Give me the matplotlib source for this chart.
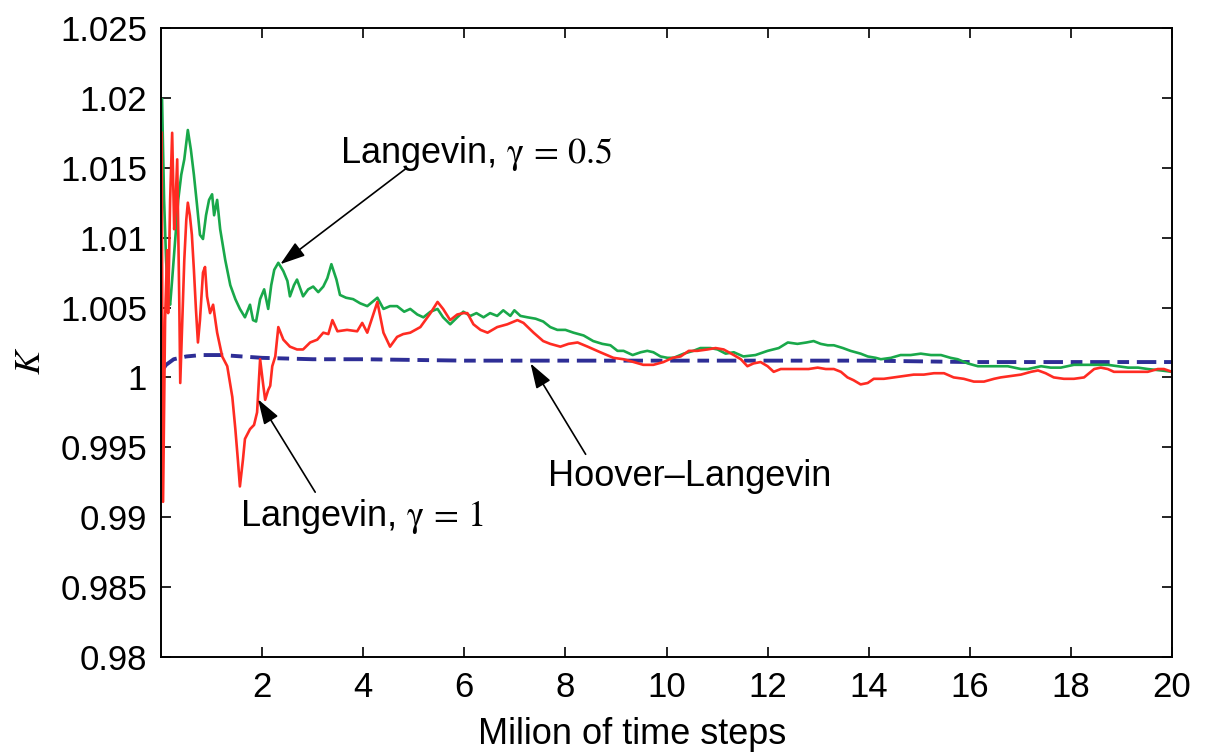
import numpy as np
import matplotlib.pyplot as plt

plt.rcParams['font.family'] = ['Liberation Sans', 'DejaVu Sans']
plt.rcParams['mathtext.fontset'] = 'stix'

# Langevin, gamma = 0.5 (green)
x_green = [0.02, 0.06, 0.10, 0.14, 0.18, 0.22, 0.28, 0.34, 0.40, 0.46, 0.53, 0.59, 0.65, 0.71,
           0.77, 0.83, 0.89, 0.95, 1.01, 1.05, 1.11, 1.17, 1.27, 1.37, 1.47, 1.56, 1.66, 1.76,
           1.82, 1.88, 1.96, 2.04, 2.12, 2.18, 2.24, 2.32, 2.42, 2.50, 2.55, 2.63, 2.69, 2.81,
           2.91, 3.01, 3.11, 3.21, 3.29, 3.37, 3.47, 3.54, 3.66, 3.80, 3.94, 4.08, 4.18, 4.28,
           4.40, 4.53, 4.67, 4.81, 4.93, 5.07, 5.19, 5.33, 5.47, 5.58, 5.72, 5.86, 5.98, 6.12,
           6.24, 6.38, 6.51, 6.65, 6.77, 6.91, 6.99, 7.11, 7.25, 7.41, 7.56, 7.70, 7.84, 8.00,
           8.16, 8.36, 8.55, 8.73, 8.89, 9.03, 9.15, 9.33, 9.49, 9.62, 9.74, 9.88, 10.02, 10.14,
           10.34, 10.53, 10.67, 10.87, 11.01, 11.17, 11.33, 11.52, 11.76, 12.00, 12.22, 12.40,
           12.59, 12.77, 12.91, 13.05, 13.19, 13.31, 13.49, 13.64, 13.84, 13.98, 14.14, 14.24,
           14.44, 14.63, 14.83, 15.03, 15.23, 15.43, 15.62, 15.76, 15.96, 16.16, 16.42, 16.75,
           17.01, 17.15, 17.41, 17.60, 17.80, 18.06, 18.34, 18.59, 18.73, 18.93, 19.13, 19.33,
           19.52, 19.78, 20.00]
k_green = [1.0199, 1.0127, 1.0084, 1.0056, 1.0052, 1.0070, 1.0099, 1.0127, 1.0145, 1.0156,
           1.0177, 1.0163, 1.0145, 1.0124, 1.0102, 1.0099, 1.0116, 1.0127, 1.0131, 1.0116,
           1.0127, 1.0106, 1.0084, 1.0066, 1.0056, 1.0049, 1.0043, 1.0052, 1.0041, 1.0040,
           1.0056, 1.0063, 1.0049, 1.0066, 1.0077, 1.0082, 1.0076, 1.0069, 1.0058, 1.0066,
           1.0070, 1.0058, 1.0063, 1.0065, 1.0061, 1.0065, 1.0071, 1.0081, 1.0070, 1.0059,
           1.0057, 1.0056, 1.0053, 1.0051, 1.0054, 1.0057, 1.0049, 1.0051, 1.0051, 1.0047,
           1.0049, 1.0045, 1.0043, 1.0047, 1.0049, 1.0043, 1.0038, 1.0043, 1.0047, 1.0044,
           1.0046, 1.0043, 1.0046, 1.0044, 1.0048, 1.0044, 1.0048, 1.0044, 1.0043, 1.0042,
           1.0040, 1.0036, 1.0034, 1.0034, 1.0032, 1.0030, 1.0026, 1.0024, 1.0023, 1.0019,
           1.0019, 1.0016, 1.0018, 1.0019, 1.0018, 1.0015, 1.0014, 1.0014, 1.0017, 1.0019,
           1.0021, 1.0021, 1.0020, 1.0017, 1.0018, 1.0015, 1.0016, 1.0019, 1.0021, 1.0025,
           1.0024, 1.0025, 1.0026, 1.0024, 1.0023, 1.0023, 1.0021, 1.0019, 1.0017, 1.0015,
           1.0014, 1.0013, 1.0014, 1.0016, 1.0016, 1.0017, 1.0016, 1.0016, 1.0014, 1.0013,
           1.0010, 1.0008, 1.0008, 1.0008, 1.0006, 1.0006, 1.0008, 1.0007, 1.0007, 1.0009,
           1.0009, 1.0009, 1.0009, 1.0008, 1.0007, 1.0007, 1.0006, 1.0005, 1.0004]

# Langevin, gamma = 1 (red)
x_red = [0.01, 0.04, 0.08, 0.12, 0.14, 0.18, 0.22, 0.26, 0.28, 0.32, 0.36, 0.38, 0.42, 0.46,
         0.50, 0.53, 0.57, 0.61, 0.65, 0.69, 0.73, 0.77, 0.83, 0.87, 0.91, 0.97, 1.03, 1.11,
         1.21, 1.31, 1.37, 1.41, 1.47, 1.52, 1.56, 1.62, 1.66, 1.76, 1.84, 1.90, 1.96, 2.02,
         2.06, 2.12, 2.16, 2.20, 2.26, 2.32, 2.42, 2.55, 2.69, 2.81, 2.95, 3.09, 3.21, 3.31,
         3.39, 3.49, 3.68, 3.88, 3.98, 4.08, 4.18, 4.28, 4.40, 4.53, 4.67, 4.79, 4.93, 5.13,
         5.33, 5.47, 5.58, 5.72, 5.86, 5.98, 6.06, 6.18, 6.32, 6.46, 6.65, 6.85, 7.05, 7.17,
         7.37, 7.56, 7.70, 7.90, 8.06, 8.24, 8.44, 8.69, 8.95, 9.15, 9.35, 9.54, 9.74, 9.94,
         10.12, 10.28, 10.44, 10.61, 10.81, 10.97, 11.13, 11.33, 11.47, 11.60, 11.72, 11.86,
         12.00, 12.12, 12.26, 12.40, 12.65, 12.81, 12.99, 13.15, 13.31, 13.45, 13.58, 13.70,
         13.84, 13.98, 14.10, 14.30, 14.50, 14.69, 14.89, 15.09, 15.29, 15.49, 15.68, 15.88,
         16.08, 16.28, 16.48, 16.61, 16.81, 17.01, 17.21, 17.35, 17.50, 17.66, 17.86, 18.06,
         18.26, 18.46, 18.59, 18.73, 18.85, 18.99, 19.13, 19.33, 19.52, 19.72, 19.84, 20.00]
k_red = [1.0175, 0.9911, 1.0041, 1.0091, 1.0046, 1.0127, 1.0175, 1.0106, 1.0118, 1.0156,
         1.0056, 0.9996, 1.0041, 1.0084, 1.0113, 1.0125, 1.0116, 1.0102, 1.0077, 1.0049,
         1.0025, 1.0041, 1.0075, 1.0079, 1.0058, 1.0046, 1.0052, 1.0032, 1.0015, 1.0008,
         0.9995, 0.9986, 0.9963, 0.9941, 0.9922, 0.9941, 0.9956, 0.9963, 0.9966, 0.9975,
         1.0013, 0.9995, 0.9984, 0.9991, 0.9994, 1.0008, 1.0015, 1.0036, 1.0027, 1.0022,
         1.0020, 1.0020, 1.0025, 1.0027, 1.0032, 1.0031, 1.0041, 1.0033, 1.0034, 1.0033,
         1.0039, 1.0032, 1.0043, 1.0054, 1.0032, 1.0022, 1.0029, 1.0031, 1.0032, 1.0036,
         1.0046, 1.0054, 1.0049, 1.0041, 1.0045, 1.0046, 1.0046, 1.0038, 1.0034, 1.0032,
         1.0036, 1.0038, 1.0041, 1.0039, 1.0032, 1.0026, 1.0024, 1.0022, 1.0024, 1.0025,
         1.0022, 1.0018, 1.0014, 1.0013, 1.0011, 1.0009, 1.0009, 1.0011, 1.0014, 1.0015,
         1.0019, 1.0019, 1.0020, 1.0021, 1.0020, 1.0016, 1.0013, 1.0008, 1.0010, 1.0011,
         1.0008, 1.0004, 1.0006, 1.0006, 1.0006, 1.0006, 1.0007, 1.0006, 1.0006, 1.0004,
         1.0000, 0.9998, 0.9995, 0.9996, 0.9999, 0.9999, 1.0000, 1.0001, 1.0002, 1.0002,
         1.0003, 1.0003, 1.0000, 0.9999, 0.9997, 0.9997, 0.9999, 1.0000, 1.0001, 1.0002,
         1.0004, 1.0005, 1.0003, 1.0000, 0.9999, 0.9999, 1.0000, 1.0006, 1.0007, 1.0006,
         1.0004, 1.0004, 1.0004, 1.0004, 1.0004, 1.0006, 1.0006, 1.0004]

# Hoover-Langevin (blue)
x_blue = [0.02, 0.10, 0.25, 0.50, 0.80, 1.20, 1.60, 2.00, 3.00, 4.00, 6.00, 8.00, 10.0,
          12.0, 14.0, 16.0, 18.0, 20.0]
k_blue = [1.0005, 1.0009, 1.0013, 1.0015, 1.0016, 1.0016, 1.0015, 1.0014, 1.0013, 1.0013,
          1.0012, 1.0012, 1.0012, 1.0012, 1.0012, 1.0011, 1.0011, 1.0011]

x_ticks = [2, 4, 6, 8, 10, 12, 14, 16, 18, 20]
y_ticks = [0.98, 0.985, 0.99, 0.995, 1.0, 1.005, 1.01, 1.015, 1.02, 1.025]
y_labels = ['0.98', '0.985', '0.99', '0.995', '1', '1.005', '1.01', '1.015', '1.02', '1.025']

fig = plt.figure(figsize=(12.09, 7.56), dpi=100)
ax = fig.add_axes([0.1332, 0.131, 0.8362, 0.832])

ax.plot(x_blue, k_blue, color='#2e2e96', lw=2.8, dashes=(5, 2, 3, 2))
ax.plot(x_green, k_green, color='#19a84a', lw=1.9)
ax.plot(x_red, k_red, color='#ff2b22', lw=1.9)

ax.set_xlim(0, 20)
ax.set_ylim(0.98, 1.025)
ax.set_xticks(x_ticks)
ax.set_yticks(y_ticks)
ax.set_yticklabels(y_labels)
ax.tick_params(direction='in', length=7, width=1.2, labelsize=25, pad=10,
               top=True, right=True)
for s in ax.spines.values():
    s.set_linewidth(1.4)

ax.set_xlabel('Milion of time steps', fontsize=26)
ax.xaxis.set_label_coords(0.466, -0.095)
ax.set_ylabel('$K$', fontsize=26)
ax.yaxis.set_label_coords(-0.112, 0.47)

# annotations
arrow = dict(arrowstyle='-|>,head_length=0.85,head_width=0.28', color='black', lw=1.2,
             mutation_scale=18, shrinkA=0, shrinkB=0)
ax.text(3.54, 1.01535, r'Langevin, $\mathrm{\gamma}\,=\,0.5$', fontsize=26, va='baseline')
ax.annotate('', xy=(2.36, 1.0081), xytext=(4.83, 1.0149), arrowprops=arrow)
ax.text(1.56, 0.98936, r'Langevin, $\mathrm{\gamma}\,=\,1$', fontsize=26, va='baseline')
ax.annotate('', xy=(1.92, 0.99843), xytext=(3.05, 0.99179), arrowprops=arrow)
ax.text(7.66, 0.99222, 'Hoover\u2013Langevin', fontsize=26, va='baseline')
ax.annotate('', xy=(7.31, 1.0010), xytext=(8.40, 0.9945), arrowprops=arrow)

plt.savefig('out.png', dpi=100)
